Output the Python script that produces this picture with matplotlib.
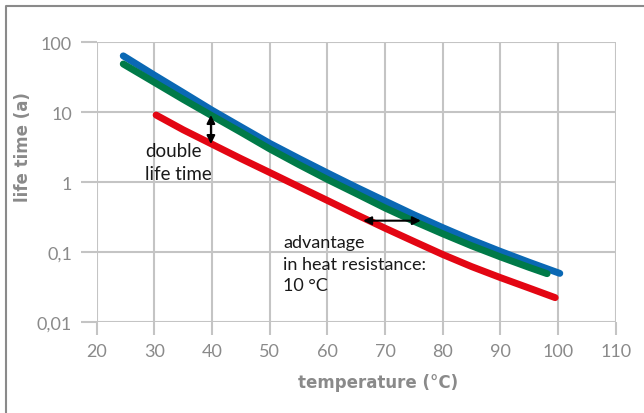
import matplotlib
matplotlib.use("Agg")
import matplotlib.pyplot as plt
from matplotlib.lines import Line2D

# data (temperature in °C, life time in years)
blue_t = [24.6, 30, 35, 40, 45, 50, 55, 60, 65, 70, 75, 80, 85, 90, 95, 100.3]
blue_life = [64, 33.9, 19.1, 10.7, 6.2, 3.6, 2.2, 1.36, 0.85, 0.54, 0.344, 0.225, 0.150, 0.103, 0.072, 0.050]

green_t = [24.6, 30, 35, 40, 45, 50, 55, 60, 65, 70, 75, 80, 85, 90, 95, 98.1]
green_life = [49, 26.8, 15.3, 8.9, 5.2, 3.0, 1.8, 1.1, 0.69, 0.43, 0.278, 0.184, 0.124, 0.086, 0.0608, 0.0495]

red_t = [30.3, 35, 40, 45, 50, 55, 60, 65, 70, 75, 80, 85, 90, 95, 99.5]
red_life = [9.14, 5.62, 3.50, 2.18, 1.38, 0.87, 0.55, 0.346, 0.221, 0.143, 0.093, 0.0625, 0.0435, 0.0308, 0.0225]

x_ticks = [20, 30, 40, 50, 60, 70, 80, 90, 100, 110]
y_ticks = [0.01, 0.1, 1, 10, 100]
y_labels = ['0,01', '0,1', '1', '10', '100']

grid_col = '#c4c4c4'
text_col = '#8a8a8a'

fig = plt.figure(figsize=(6.44, 4.14), dpi=100)
ax = fig.add_axes([0.1502, 0.2191, 0.8059, 0.6763])

ax.set_yscale('log')
ax.set_xlim(20, 110)
ax.set_ylim(0.01, 100)
ax.set_xticks(x_ticks)
ax.set_yticks(y_ticks)
ax.set_yticklabels(y_labels)
ax.minorticks_off()

for s in ax.spines.values():
    s.set_visible(False)
ax.grid(True, color=grid_col, linewidth=1.5)
ax.set_axisbelow(True)
ax.tick_params(axis='x', length=9.5, width=1.5, color=grid_col, pad=5.5,
               labelsize=13, labelcolor=text_col)
ax.tick_params(axis='y', length=11.3, width=1.5, color=grid_col, pad=6.5,
               labelsize=13, labelcolor=text_col)
for lab in ax.get_xticklabels() + ax.get_yticklabels():
    lab.set_family('Lato')

ax.plot(blue_t, blue_life, color='#0a68b4', lw=5, solid_capstyle='round')
ax.plot(green_t, green_life, color='#007a48', lw=5, solid_capstyle='round')
ax.plot(red_t, red_life, color='#e30613', lw=5, solid_capstyle='round')

# arrows
ax.annotate('', xy=(39.8, 3.52), xytext=(39.8, 9.15),
            arrowprops=dict(arrowstyle='<|-|>', color='black', lw=1.5, mutation_scale=12,
                            shrinkA=0, shrinkB=0))
ax.annotate('', xy=(66.2, 0.283), xytext=(76.2, 0.283),
            arrowprops=dict(arrowstyle='<|-|>', color='black', lw=1.5, mutation_scale=12,
                            shrinkA=0, shrinkB=0))

ax.text(28.4, 3.75, 'double\nlife time', family='Lato', fontsize=13.5, va='top', ha='left',
        linespacing=1.4, color='#1a1a1a')
ax.text(52.3, 0.18, 'advantage\nin heat resistance:\n10 °C', family='Lato', fontsize=13,
        va='top', ha='left', linespacing=1.42, color='#1a1a1a')

fig.text(378.5 / 644, 1 - 383 / 414, 'temperature (°C)', fontsize=12, fontweight='bold',
         color=text_col, ha='center', va='center')
fig.text(22.6 / 644, 1 - 147 / 414, 'life time (a)', fontsize=12, fontweight='bold',
         color=text_col, ha='center', va='center', rotation=90)

# outer frame, cut off at the right and bottom
fig.add_artist(Line2D([0.0089, 0.0089, 1.1], [-0.1, 0.9838, 0.9838],
                      transform=fig.transFigure, color='#8a8a8a', lw=1.5))

fig.savefig('out.png', dpi=100)
